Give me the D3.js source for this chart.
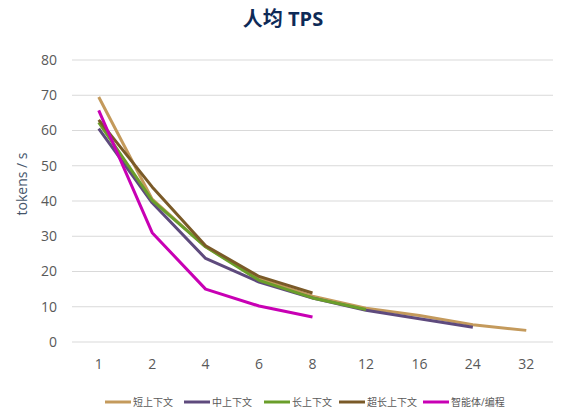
<!DOCTYPE html>
<html>
<head>
<meta charset="utf-8">
<script src="https://cdn.jsdelivr.net/npm/d3@7"></script>
<style>
  body { margin: 0; background: #fff; }
  svg text { font-family: "Open Sans", "Noto Sans CJK SC", sans-serif; }
</style>
</head>
<body>
<div id="chart"></div>
<script>

var categories = ["1", "2", "4", "6", "8", "12", "16", "24", "32"];
var seriesNames = ["短上下文", "中上下文", "长上下文", "超长上下文", "智能体/编程"];
var seriesColors = ["#C49A5C", "#5E4A7D", "#6A9E2A", "#7A5A28", "#C800B4"];

var shortCtx  = [69.5, 40.5, 27, 18, 13, 9.6, 7.5, 4.9, 3.3];
var midCtx    = [60.5, 39.5, 23.7, 17, 12.5, 9, 6.6, 4.2];
var longCtx   = [62.3, 40.2, 27, 17.5, 12.5, 9.2];
var xlongCtx  = [63, 44, 27.3, 18.6, 13.9];
var agentCtx  = [65.7, 31, 15, 10.2, 7.1];

var yTicks = [0, 10, 20, 30, 40, 50, 60, 70, 80];

var width = 567, height = 419;
var margin = {top: 60, right: 14, bottom: 77, left: 72};

var svg = d3.select("#chart").append("svg")
	.attr("width", width).attr("height", height);

var x = d3.scalePoint()
	.domain(categories)
	.range([margin.left, width - margin.right])
	.padding(0.5);

var y = d3.scaleLinear()
	.domain([0, 80])
	.range([height - margin.bottom, margin.top]);

// grid
svg.append("g").selectAll("line")
	.data(yTicks).enter()
	.append("line")
	.attr("x1", margin.left).attr("x2", width - margin.right)
	.attr("y1", function(d){ return y(d); }).attr("y2", function(d){ return y(d); })
	.attr("stroke", "#d9d9d9").attr("stroke-width", 1);

// y tick labels
svg.append("g").selectAll("text")
	.data(yTicks).enter()
	.append("text")
	.attr("x", 57)
	.attr("y", function(d){ return y(d); })
	.attr("dy", "0.35em")
	.attr("text-anchor", "end")
	.attr("font-size", 14)
	.attr("fill", "#595959")
	.text(function(d){ return d; });

// x tick labels
svg.append("g").selectAll("text")
	.data(categories).enter()
	.append("text")
	.attr("x", function(d){ return x(d); })
	.attr("y", 369)
	.attr("text-anchor", "middle")
	.attr("font-size", 14)
	.attr("fill", "#595959")
	.text(function(d){ return d; });

// title
svg.append("text")
	.attr("x", 283).attr("y", 26)
	.attr("text-anchor", "middle")
	.attr("font-size", 20)
	.attr("font-weight", "bold")
	.attr("fill", "#0E2A57")
	.text("人均 TPS");

// y axis title
svg.append("text")
	.attr("transform", "translate(27,184) rotate(-90)")
	.attr("text-anchor", "middle")
	.attr("font-size", 14)
	.attr("fill", "#44546A")
	.text("tokens / s");

var allSeries = [shortCtx, midCtx, longCtx, xlongCtx, agentCtx];

var line = d3.line()
	.x(function(d, i){ return x(categories[i]); })
	.y(function(d){ return y(d); });

svg.append("g").selectAll("path")
	.data(allSeries).enter()
	.append("path")
	.attr("d", line)
	.attr("fill", "none")
	.attr("stroke", function(d, i){ return seriesColors[i]; })
	.attr("stroke-width", 3)
	.attr("stroke-linejoin", "round");

// legend
var legendX = [105, 184, 264, 339, 423];
var lg = svg.append("g").selectAll("g")
	.data(seriesNames).enter()
	.append("g")
	.attr("transform", function(d, i){ return "translate(" + legendX[i] + ",402)"; });

lg.append("line")
	.attr("x1", 0).attr("x2", 26)
	.attr("stroke", function(d, i){ return seriesColors[i]; })
	.attr("stroke-width", 3);

lg.append("text")
	.attr("x", 28).attr("dy", "0.35em")
	.attr("font-size", 10)
	.attr("fill", "#595959")
	.text(function(d){ return d; });

</script>
</body>
</html>
